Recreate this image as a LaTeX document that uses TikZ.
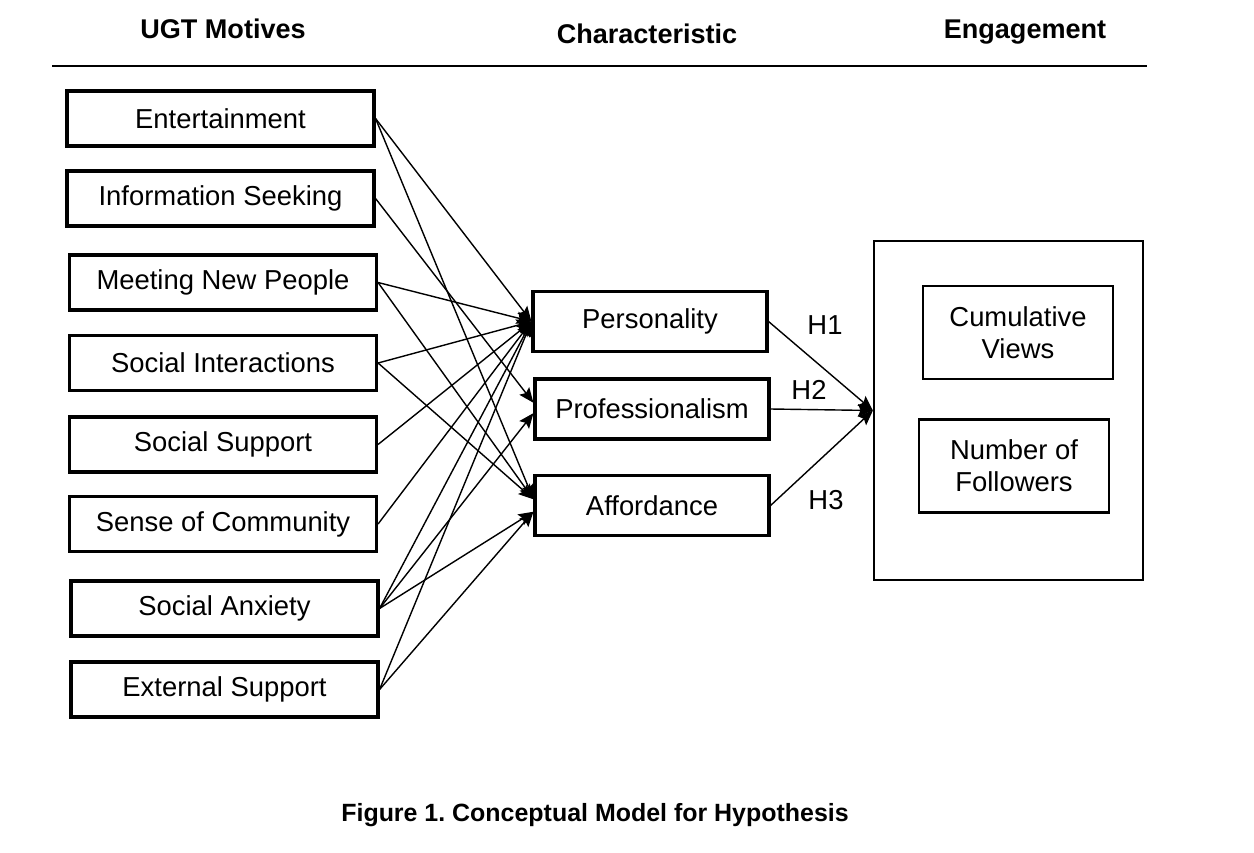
\documentclass[tikz,border=0pt]{standalone}
\usepackage{fontspec}
\setmainfont{Liberation Sans}
\usetikzlibrary{arrows.meta,positioning}

\tikzset{
  motive/.style={draw, line width=1.8pt, minimum width=6.14cm, minimum height=1.1cm,
    inner sep=0pt, font=\fontsize{15.6}{18}\selectfont},
  trait/.style={draw, line width=1.8pt, minimum width=4.68cm, minimum height=1.2cm,
    inner sep=0pt, font=\fontsize{15.6}{18}\selectfont},
  outcome/.style={draw, line width=1.4pt, minimum width=3.8cm, minimum height=1.86cm,
    inner sep=0pt, align=center, font=\fontsize{15.6}{18.2}\selectfont},
  head/.style={font=\fontsize{15.4}{18}\selectfont\bfseries},
  link/.style={line width=0.8pt, -{Stealth[length=8.5pt,width=7pt,inset=1.5pt]}},
  hyp/.style={font=\fontsize{15.6}{18}\selectfont}
}

\begin{document}
\begin{tikzpicture}[x=0.02cm,y=-0.02cm]
\useasboundingbox (0,0) rectangle (1254,852);
% Column headings and rule
\node[head] (hmot) at (223,29) {UGT Motives};
\node[head] (hchar) at (647,34) {Characteristic};
\node[head] (heng) at (1025,32) {Engagement};
\draw[line width=1.7pt] (52,66) -- (1147,66);
% UGT motives
\node[motive] (ent) at (220.5,118.5) {Entertainment};
\node[motive] (info) at (220.5,198.5) {Information Seeking};
\node[motive] (meet) at (223,282.5) {Meeting New People};
\node[motive] (socint) at (223,363) {Social Interactions};
\node[motive] (socsup) at (223,444.5) {Social Support};
\node[motive] (sense) at (223,524) {Sense of Community};
\node[motive] (anx) at (224.5,608.5) {Social Anxiety};
\node[motive] (ext) at (224.5,689.5) {External Support};
% Characteristics
\node[trait] (pers) at (650,321.5) {Personality};
\node[trait] (prof) at (652,409) {Professionalism};
\node[trait] (aff) at (652,505.5) {Affordance};
% Engagement
\node[draw, line width=1.3pt, minimum width=5.38cm, minimum height=6.78cm] (eng) at (1008.5,410.5) {};
\node[outcome] (views) at (1018,332.5) {Cumulative\\Views};
\node[outcome] (follow) at (1014,466) {Number of\\Followers};
% Motives to characteristics
\draw[link] (ent.east) -- (pers.west);
\draw[link] (ent.east) -- (aff.177.3);
\draw[link] (info.east) -- (prof.177);
\draw[link] (meet.east) -- (pers.west);
\draw[link] (meet.east) -- (aff.177.3);
\draw[link] (socint.east) -- (pers.west);
\draw[link] (socint.east) -- (aff.177.3);
\draw[link] (socsup.east) -- (pers.west);
\draw[link] (sense.east) -- (pers.west);
\draw[link] (anx.east) -- (pers.west);
\draw[link] (anx.east) -- (prof.182.5);
\draw[link] (anx.east) -- (aff.183.2);
\draw[link] (ext.east) -- (pers.west);
\draw[link] (ext.east) -- (aff.183.2);
% Characteristics to engagement
\draw[link] (pers.east) -- (eng.west);
\draw[link] (prof.east) -- (eng.west);
\draw[link] (aff.east) -- (eng.west);
\node[hyp] (h1) at (825,325) {H1};
\node[hyp] (h2) at (809,390) {H2};
\node[hyp] (h3) at (826,500) {H3};
% Caption
\node[font=\fontsize{14.2}{17}\selectfont\bfseries] (cap) at (595,815) {Figure 1.\ Conceptual Model for Hypothesis};
\end{tikzpicture}
\end{document}
